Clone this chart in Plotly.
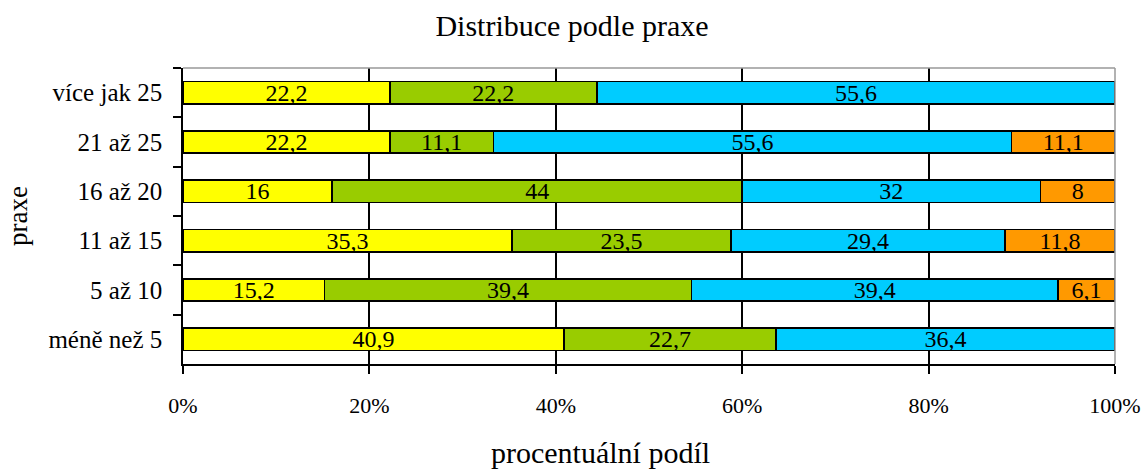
import plotly.graph_objects as go

categories = ["více jak 25", "21 až 25", "16 až 20", "11 až 15", "5 až 10", "méně než 5"]
s1 = [22.2, 22.2, 16, 35.3, 15.2, 40.9]
s2 = [22.2, 11.1, 44, 23.5, 39.4, 22.7]
s3 = [55.6, 55.6, 32, 29.4, 39.4, 36.4]
s4 = [0, 11.1, 8, 11.8, 6.1, 0]
series = [s1, s2, s3, s4]
colors = ["#FFFF00", "#99CC00", "#00CCFF", "#FF9900"]
xticks = [0, 20, 40, 60, 80, 100]

FONT = "Liberation Serif, Times New Roman, serif"

def fmt(v):
    if v == 0:
        return ""
    return ("%g" % v).replace(".", ",")

fig = go.Figure()
for vals, col in zip(series, colors):
    fig.add_trace(go.Bar(
        y=categories, x=vals, orientation="h",
        marker=dict(color=col, line=dict(color="black", width=1.5)),
        text=[fmt(v) for v in vals], textposition="inside",
        insidetextanchor="middle", textangle=0,
        textfont=dict(family=FONT, size=24, color="black"),
        hoverinfo="skip", showlegend=False,
    ))

fig.update_layout(
    barmode="stack", barnorm="percent", bargap=0.55,
    width=1148, height=470,
    margin=dict(l=183, r=33, t=68, b=106, autoexpand=False),
    paper_bgcolor="white", plot_bgcolor="white",
    font=dict(family=FONT, size=22, color="black"),
    title=dict(text="Distribuce podle praxe", x=572 / 1148, xanchor="center", xref="container",
               y=1 - 25 / 470, yanchor="middle", font=dict(size=30)),
    uniformtext=dict(mode="show", minsize=24),
    shapes=[
        dict(type="line", xref="paper", yref="paper", x0=0, x1=1, y0=1, y1=1,
             line=dict(color="#999999", width=1.5), layer="above"),
        dict(type="line", xref="paper", yref="paper", x0=1, x1=1, y0=0, y1=1,
             line=dict(color="#999999", width=1.5), layer="above"),
    ],
    annotations=[
        dict(text="procentuální podíl", xref="paper", yref="paper", x=(600 - 183) / 932, y=0,
             xanchor="center", yanchor="middle", yshift=-88, showarrow=False,
             font=dict(size=30)),
        dict(text="praxe", xref="paper", yref="paper", x=0, y=0.5,
             xanchor="center", yanchor="middle", xshift=-165, textangle=-90,
             showarrow=False, font=dict(size=27)),
    ],
)
fig.update_xaxes(
    range=[0, 100], tickvals=xticks, ticktext=[f"{t}%" for t in xticks],
    showgrid=True, gridcolor="black", gridwidth=1.5,
    showline=True, linecolor="black", linewidth=1.5,
    ticks="outside", ticklen=8, tickwidth=1.5, tickcolor="black",
    ticklabelstandoff=13, zeroline=False, automargin=False,
    tickfont=dict(size=22),
)
fig.update_yaxes(
    autorange="reversed", type="category",
    showline=True, linecolor="black", linewidth=1.5,
    ticks="outside", ticklen=8, tickwidth=1.5, tickcolor="black",
    tickson="boundaries", ticklabelstandoff=14, automargin=False,
    tickfont=dict(size=25), showgrid=False,
)

fig.write_html("out.html", config={"displayModeBar": False},
               post_script="document.body.style.margin='0';document.body.style.overflow='hidden';")
